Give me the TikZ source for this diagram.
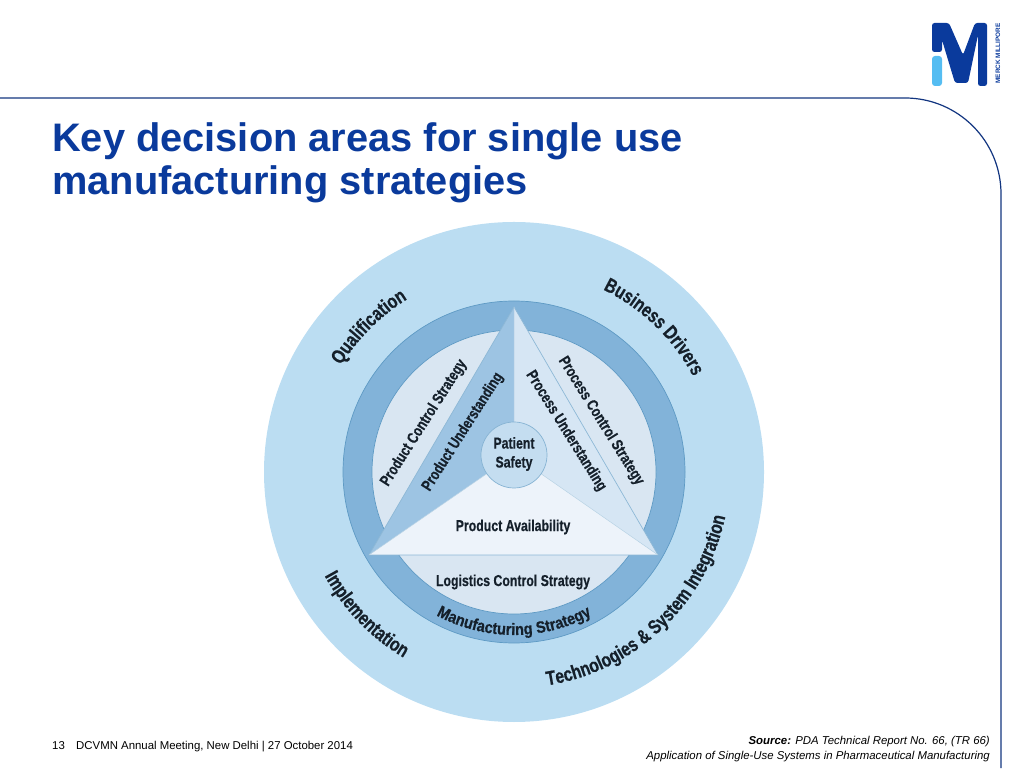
\documentclass[tikz,border=0pt]{standalone}
\usepackage{fontspec}
\setmainfont{Liberation Sans}
\newfontfamily\narrowb[FakeStretch=0.78,BoldFeatures={FakeStretch=0.78,FakeBold=0.5}]{Liberation Sans}
\newfontfamily\ringb[FakeStretch=0.88,BoldFeatures={FakeStretch=0.88,FakeBold=0.5}]{Liberation Sans}
\usetikzlibrary{decorations.text}
\definecolor{outerblue}{HTML}{BBDDF2}
\definecolor{ringblue}{HTML}{82B3D9}
\definecolor{edgeblue}{HTML}{5E9AC4}
\definecolor{seglight}{HTML}{D9E6F2}
\definecolor{leftsec}{HTML}{9DC4E3}
\definecolor{rightsec}{HTML}{D6E6F4}
\definecolor{bottomsec}{HTML}{EDF3FA}
\definecolor{hubblue}{HTML}{C4DDF0}
\definecolor{titleblue}{HTML}{0A3A9C}
\definecolor{framelineblue}{HTML}{123580}
\definecolor{logocyan}{HTML}{55BDF2}
\definecolor{labelink}{HTML}{15202B}
\newcommand{\lab}{\narrowb\bfseries\fontsize{15.8}{18}\selectfont}
\newcommand{\arclab}{\narrowb\bfseries\fontsize{20}{22}\selectfont}
\newcommand{\ringlab}{\ringb\bfseries\fontsize{16.5}{18}\selectfont}
\tikzset{
  x=1pt,y=1pt,
  seclabel/.style={text=labelink,font=\lab,inner sep=0pt,align=center},
  curvedtext/.style={decorate,decoration={text along path,text align=center,text color=labelink,text={#1}}},
}
\begin{document}
\begin{tikzpicture}
\useasboundingbox (0,0) rectangle (1024,768);
% frame
\draw[framelineblue,line width=1.2pt] (0,670) -- (905,670) arc[start angle=90,end angle=0,radius=96pt] -- (1001,0);
% logo
\fill[titleblue,rounded corners=2.5pt] (932,745) -- (949,745) -- (963,713) -- (975,745) -- (987,745) -- (987,682) -- (978,682) -- (978,733) -- (968,685) -- (955,685) -- (942,728) -- (942,716) -- (932,716) -- cycle;
\fill[logocyan,rounded corners=3pt] (932,712) rectangle (942,682);
\node[text=titleblue,font=\bfseries\fontsize{6.4}{7}\selectfont,rotate=90,inner sep=0pt] (logotext) at (998,714.5) {MERCK MILLIPORE};
% title
\node[anchor=base west,text=titleblue,font=\bfseries\fontsize{39.8}{43}\selectfont,inner sep=0pt] (title1) at (52,616) {Key decision areas for single use};
\node[anchor=base west,text=titleblue,font=\bfseries\fontsize{39.8}{43}\selectfont,inner sep=0pt] (title2) at (52,573) {manufacturing strategies};
% wheel
\fill[outerblue] (514,296) circle[radius=250pt];
\filldraw[fill=ringblue,draw=edgeblue,line width=0.7pt] (514,296) circle[radius=171pt];
\filldraw[fill=seglight,draw=edgeblue,line width=0.7pt] (514,296) circle[radius=142pt];
\fill[leftsec] (514,461) -- (369,213) -- (514,313) -- cycle;
\fill[rightsec] (514,461) -- (658,213) -- (514,313) -- cycle;
\fill[bottomsec] (369,213) -- (658,213) -- (514,313) -- cycle;
\draw[edgeblue!70,line width=0.7pt] (514,461) -- (369,213) -- (658,213) -- cycle;
\draw[edgeblue!45,line width=0.5pt] (514,461) -- (514,313) (369,213) -- (514,313) -- (658,213);
\filldraw[fill=hubblue,draw=edgeblue!75,line width=0.7pt] (514,313) circle[radius=33pt];
% straight labels
\node[seclabel] (patient) at (514,314) {Patient\\[1pt]Safety};
\node[seclabel] (avail) at (513,241) {Product Availability};
\node[seclabel] (logistics) at (513,186) {Logistics Control Strategy};
\node[seclabel,rotate=57.5] (pcs) at (424,345) {Product Control Strategy};
\node[seclabel,rotate=57.5] (pu) at (463,336) {Product Understanding};
\node[seclabel,rotate=-58] (prcs) at (601,347) {Process Control Strategy};
\node[seclabel,rotate=-58] (pru) at (566,337) {Process Understanding};
% curved labels
\path[curvedtext={|\arclab|Qualification}] (514,296) ++(175:203pt) arc[start angle=175,end angle=95,radius=203pt];
\path[curvedtext={|\arclab|Business Drivers}] (514,296) ++(86:203pt) arc[start angle=86,end angle=6,radius=203pt];
\path[curvedtext={|\arclab|Implementation}] (514,296) ++(184:216pt) arc[start angle=184,end angle=264,radius=216pt];
\path[curvedtext={|\arclab|Technologies {\&} System Integration}] (514,296) ++(266:216pt) arc[start angle=266,end angle=361,radius=216pt];
\path[curvedtext={|\ringlab|Manufacturing Strategy}] (514,296) ++(235:163pt) arc[start angle=235,end angle=305,radius=163pt];
% footer
\node[anchor=base west,font=\fontsize{11.4}{13}\selectfont,text=black,inner sep=0pt] (page) at (52,19) {13};
\node[anchor=base west,font=\fontsize{11.4}{13}\selectfont,text=black,inner sep=0pt] (meeting) at (76,19) {DCVMN Annual Meeting, New Delhi | 27 October 2014};
\node[anchor=base east,font=\itshape\fontsize{11.4}{13}\selectfont,text=black,inner sep=0pt] (src1) at (990,24) {\textbf{Source:} PDA Technical Report No. 66, (TR 66)};
\node[anchor=base east,font=\itshape\fontsize{11.4}{13}\selectfont,text=black,inner sep=0pt] (src2) at (990,9) {Application of Single-Use Systems in Pharmaceutical Manufacturing};
\end{tikzpicture}
\end{document}
